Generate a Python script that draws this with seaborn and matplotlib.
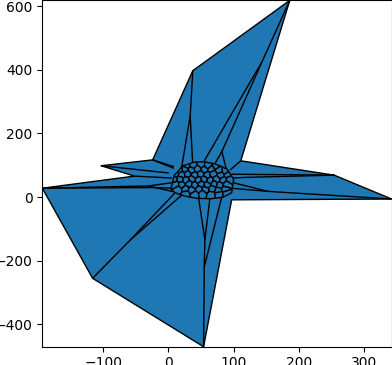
import numpy as np
import pandas as pd
import matplotlib
matplotlib.use("Agg")
import matplotlib.pyplot as plt
import seaborn as sns

# Outer boundary of the finite Voronoi regions (data units)
outer_x = [186, 111, 254, 342, 97, 54, -116, -193, -52, -103, -24, 37.5]
outer_y = [618, 114, 69, -6, -8.5, -470, -255, 28, 66, 98.5, 117, 397]

# Interior ridges (polylines) : x lists and y lists
ridge_x = [
    [37.5, 33.5, 20.6], [33.5, 37.5], [-24, 8],
    [186, 143.7, 50], [143.7, 82, 67], [82, 89], [111, 95],
    [254, 97], [342, 153, 95], [153, 92], [254, 120, 96],
    [54, 55, 56, 46], [56, 64], [55, 82],
    [-116, -58, 21], [-58, 10],
    [-193, -31, 8], [-31, 8], [-52, 5], [-103, 0], [-24, 8],
    [-193, -20, 6],
]
ridge_y = [
    [397, 255, 96], [255, 96], [117, 96],
    [618, 426, 96], [426, 143, 90], [143, 86], [114, 86],
    [69, 72], [-6, 18, 28], [18, 49], [69, 62, 60],
    [-470, -220, -134, 2], [-134, 2], [-220, 2],
    [-255, -134, 7], [-134, 13],
    [28, 35, 17], [35, 46], [66, 60], [98.5, 76], [117, 91],
    [28, 30, 28],
]

# Central hub outline and the seed points of its small cells
hub_x = [4, 9, 22, 40, 55, 72, 90, 100, 97, 84, 66, 44, 24, 10]
hub_y = [26, 68, 98, 110, 111, 104, 88, 56, 14, 0, -5, -4, 4, 14]
seed_x = [28, 38, 50, 61, 73,
          17, 26, 35, 45, 55, 66, 77, 88,
          11, 20, 30, 40, 50, 59, 69, 80, 91,
          9, 18, 27, 37, 46, 55, 64, 74, 84, 94,
          11, 21, 31, 41, 50, 60, 70, 79, 89,
          15, 26, 36, 47, 57, 67, 77, 87,
          27, 40, 53, 65, 78, 89]
seed_y = [98, 101, 103, 100, 97,
          86, 88, 84, 89, 85, 88, 84, 82,
          72, 70, 74, 68, 73, 69, 74, 68, 71,
          55, 57, 52, 58, 53, 57, 51, 56, 53, 56,
          40, 38, 42, 37, 41, 38, 42, 37, 40,
          24, 27, 22, 26, 23, 27, 21, 25,
          9, 8, 11, 7, 10, 12]

BLUE = "#1f77b4"
SX, SY = 0.65, 0.318  # display scale used so cells look isotropic on screen


def clip(poly, a, b, c):
    out = []
    n = len(poly)
    for k in range(n):
        p, q = poly[k], poly[(k + 1) % n]
        fp = a * p[0] + b * p[1] - c
        fq = a * q[0] + b * q[1] - c
        if fp <= 0:
            out.append(p)
        if fp * fq < 0:
            t = fp / (fp - fq)
            out.append((p[0] + t * (q[0] - p[0]), p[1] + t * (q[1] - p[1])))
    return out


def hub_cells():
    hub = [(x * SX, y * SY) for x, y in zip(hub_x, hub_y)]
    pts = np.column_stack([np.array(seed_x) * SX, np.array(seed_y) * SY])
    cells = []
    for i, si in enumerate(pts):
        poly = list(hub)
        for j, sj in enumerate(pts):
            if i == j:
                continue
            d = sj - si
            c = (sj @ sj - si @ si) / 2
            poly = clip(poly, d[0], d[1], c)
            if not poly:
                break
        if len(poly) >= 3:
            cells.append([(p[0] / SX, p[1] / SY) for p in poly])
    return cells


sns.set_style("ticks")
plt.rcParams["font.family"] = ["DejaVu Sans"]
fig, ax = plt.subplots(figsize=(3.92, 3.65), dpi=100)
fig.subplots_adjust(left=0.108, right=0.999, top=0.999, bottom=0.050)

ax.fill(outer_x, outer_y, facecolor=BLUE, edgecolor="black", linewidth=1, zorder=1)

rows = []
for k, (xs, ys) in enumerate(zip(ridge_x, ridge_y)):
    for o, (x, y) in enumerate(zip(xs, ys)):
        rows.append({"edge": k, "order": o, "x": x, "y": y})
df = pd.DataFrame(rows)
sns.lineplot(data=df, x="x", y="y", units="edge", estimator=None, sort=False,
             color="black", linewidth=1, ax=ax, zorder=2)

for cell in hub_cells():
    cx, cy = zip(*cell)
    ax.fill(cx, cy, facecolor=BLUE, edgecolor="black", linewidth=1, zorder=3)

ax.set_xlim(min(outer_x), max(outer_x))
ax.set_ylim(min(outer_y), max(outer_y))
ax.set_xticks([-100, 0, 100, 200, 300])
ax.set_yticks([-400, -200, 0, 200, 400, 600])
ax.set_xlabel("")
ax.set_ylabel("")
ax.tick_params(labelsize=10, length=3.5, width=0.8, colors="black")
for s in ax.spines.values():
    s.set_color("black")
    s.set_linewidth(0.8)

fig.savefig("out.png", dpi=100)
